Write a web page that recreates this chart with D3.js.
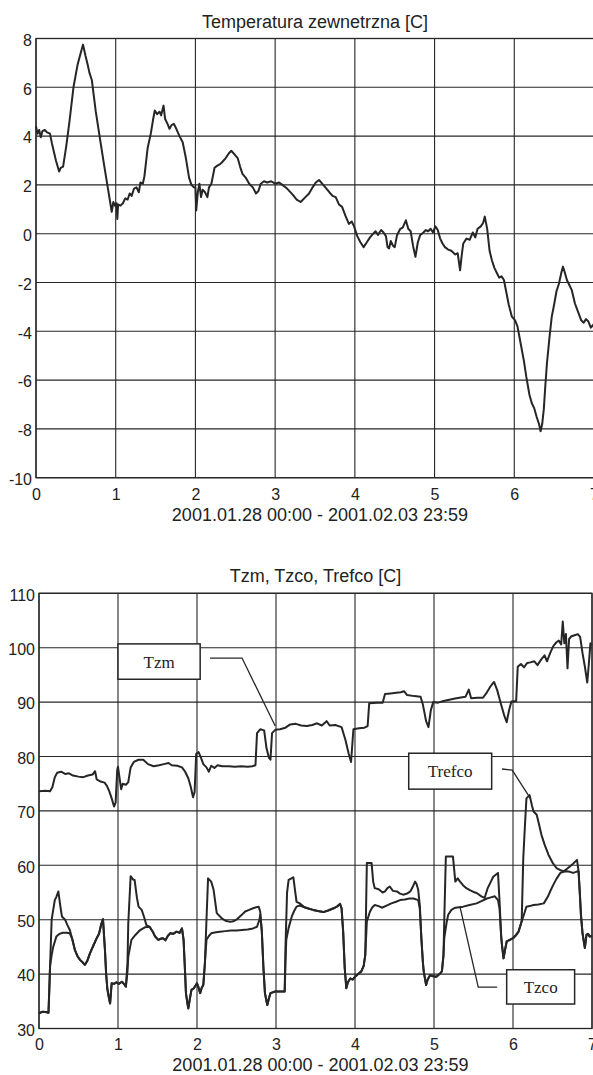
<!DOCTYPE html>
<html>
<head>
<meta charset="utf-8">
<script src="https://cdn.jsdelivr.net/npm/d3@7"></script>
<style>
  body { margin: 0; background: #fff; }
  svg { display: block; }
  .tick text { font-family: "Liberation Sans", Arial, sans-serif; font-size: 16px; fill: #222; }
  .ttl { font-family: "Liberation Sans", Arial, sans-serif; font-size: 18px; fill: #222; }
  .note { font-family: "Liberation Serif", "Times New Roman", serif; font-size: 17px; fill: #222; }
</style>
</head>
<body>
<svg></svg>
<script>
/* dane: dni od 2001.01.28 00:00 */
const dayTicks = [0, 1, 2, 3, 4, 5, 6, 7];
const tempTicks = [-10, -8, -6, -4, -2, 0, 2, 4, 6, 8];
const waterTicks = [30, 40, 50, 60, 70, 80, 90, 100, 110];
const xLabel = '2001.01.28 00:00 - 2001.02.03 23:59';

// temperatura zewnetrzna [t, C]
const tOut = [
  [0,4.4],[0.02,4.1],[0.04,4.25],[0.06,3.95],[0.08,4.2],[0.11,4.25],[0.14,4.15],[0.175,4.1],[0.2,3.7],[0.25,3.0],
  [0.29,2.55],[0.31,2.7],[0.34,2.75],[0.38,3.6],[0.42,4.6],[0.47,6.0],[0.52,6.9],[0.56,7.4],[0.59,7.75],[0.62,7.3],
  [0.65,6.9],[0.67,6.6],[0.70,6.3],[0.75,5.0],[0.8,3.95],[0.85,2.9],[0.9,1.9],[0.93,1.3],[0.95,0.9],[0.97,1.3],
  [0.99,1.15],[1.01,1.25],[1.02,0.6],[1.03,1.2],[1.06,1.15],[1.09,1.25],[1.12,1.45],[1.15,1.4],[1.175,1.65],[1.2,1.55],
  [1.23,1.85],[1.26,1.9],[1.29,1.7],[1.31,2.1],[1.34,2.05],[1.36,2.35],[1.40,3.5],[1.44,4.1],[1.47,4.7],[1.49,5.05],
  [1.52,4.9],[1.55,5.0],[1.57,4.85],[1.60,5.25],[1.62,4.7],[1.65,4.5],[1.675,4.3],[1.70,4.45],[1.73,4.5],[1.76,4.3],
  [1.80,4.0],[1.84,3.75],[1.88,3.1],[1.92,2.3],[1.95,2.0],[1.98,1.9],[2.00,1.9],[2.01,0.95],[2.03,1.7],[2.05,2.05],
  [2.07,1.5],[2.09,1.8],[2.12,1.7],[2.15,1.5],[2.17,1.9],[2.2,2.05],[2.24,2.7],[2.28,2.8],[2.31,2.85],[2.34,2.95],
  [2.38,3.1],[2.42,3.3],[2.45,3.4],[2.49,3.25],[2.53,3.1],[2.56,2.75],[2.59,2.45],[2.63,2.3],[2.675,2.05],[2.72,1.9],
  [2.76,1.65],[2.79,1.75],[2.82,2.05],[2.86,2.15],[2.9,2.1],[2.95,2.15],[3.0,2.05],[3.05,2.1],[3.09,2.0],[3.15,1.85],
  [3.22,1.6],[3.27,1.4],[3.32,1.3],[3.38,1.5],[3.425,1.65],[3.47,1.9],[3.51,2.1],[3.55,2.2],[3.59,2.05],[3.63,1.9],
  [3.68,1.7],[3.72,1.55],[3.76,1.5],[3.8,1.2],[3.84,1.1],[3.88,0.75],[3.925,0.4],[3.96,0.5],[3.99,0.3],[4.03,-0.1],
  [4.07,-0.35],[4.11,-0.55],[4.15,-0.35],[4.19,-0.15],[4.23,0],[4.26,0.1],[4.29,-0.05],[4.33,0.15],[4.36,0.05],[4.39,-0.1],
  [4.41,-0.55],[4.43,-0.6],[4.45,-0.3],[4.48,-0.5],[4.5,-0.55],[4.53,-0.05],[4.57,0.2],[4.6,0.25],[4.64,0.55],[4.67,0.2],
  [4.7,0.1],[4.73,-0.5],[4.76,-0.95],[4.79,-0.35],[4.82,-0.05],[4.86,0.05],[4.89,0.15],[4.92,0.1],[4.95,0.2],[4.98,0.05],
  [5.01,0.3],[5.04,0.15],[5.07,-0.2],[5.1,-0.4],[5.13,-0.55],[5.17,-0.65],[5.21,-0.7],[5.26,-0.85],[5.29,-0.8],[5.32,-1.5],
  [5.34,-0.9],[5.36,-0.4],[5.4,-0.2],[5.44,-0.25],[5.48,0.05],[5.51,-0.15],[5.54,0.2],[5.58,0.3],[5.61,0.45],[5.63,0.7],
  [5.66,0.2],[5.69,-0.7],[5.72,-1.1],[5.75,-1.4],[5.78,-1.6],[5.81,-1.8],[5.84,-1.75],[5.87,-1.9],[5.9,-2.4],[5.93,-2.9],
  [5.97,-3.4],[6.01,-3.55],[6.04,-3.8],[6.08,-4.5],[6.12,-5.2],[6.15,-5.85],[6.19,-6.6],[6.22,-6.95],[6.25,-7.15],[6.28,-7.5],
  [6.31,-7.8],[6.33,-8.1],[6.35,-7.8],[6.37,-7.2],[6.39,-6.2],[6.41,-5.3],[6.44,-4.3],[6.47,-3.4],[6.5,-2.9],[6.53,-2.35],
  [6.56,-2.05],[6.59,-1.6],[6.61,-1.35],[6.63,-1.55],[6.66,-1.9],[6.69,-2.1],[6.72,-2.3],[6.76,-2.85],[6.8,-3.2],[6.84,-3.55],
  [6.87,-3.65],[6.9,-3.5],[6.93,-3.6],[6.96,-3.85],[7.0,-3.7]
];

// Tzm [t, C]
const tzm = [
  [0,73.6],[0.08,73.7],[0.14,73.6],[0.17,74.4],[0.2,76.2],[0.23,77.0],[0.28,77.2],[0.33,76.8],[0.38,76.9],[0.43,76.5],
  [0.5,76.3],[0.56,76.2],[0.62,76.5],[0.68,76.7],[0.71,77.3],[0.73,75.8],[0.78,75.4],[0.83,75.2],[0.86,74.6],[0.89,73.6],
  [0.92,72.3],[0.95,70.8],[0.97,71.5],[0.99,77.5],[1.0,78.1],[1.02,76.0],[1.04,74.0],[1.06,75.0],[1.1,74.8],[1.13,75.3],
  [1.16,78.0],[1.2,79.0],[1.26,79.4],[1.32,79.4],[1.38,78.6],[1.45,78.2],[1.52,78.4],[1.58,78.6],[1.64,78.8],[1.68,78.4],
  [1.75,78.3],[1.81,78.0],[1.85,77.2],[1.89,76.0],[1.92,74.5],[1.95,72.5],[1.97,73.5],[1.99,80.5],[2.02,80.8],[2.05,79.8],
  [2.08,78.6],[2.12,78.0],[2.15,77.2],[2.18,78.3],[2.22,77.9],[2.26,78.4],[2.32,78.2],[2.4,78.2],[2.48,78.1],[2.56,78.2],
  [2.64,78.1],[2.7,78.2],[2.74,78.4],[2.76,84.3],[2.8,85.0],[2.85,84.8],[2.88,81.5],[2.91,79.8],[2.93,79.4],[2.95,84.3],
  [2.99,84.9],[3.05,85.0],[3.12,85.3],[3.18,85.9],[3.25,86.0],[3.32,85.7],[3.39,85.6],[3.46,85.8],[3.52,86.1],[3.58,85.7],
  [3.64,86.5],[3.68,85.7],[3.75,85.8],[3.83,85.4],[3.88,83.0],[3.92,80.5],[3.95,79.0],[3.98,85.0],[4.05,85.2],[4.12,85.3],
  [4.16,85.6],[4.18,89.8],[4.28,89.9],[4.35,89.9],[4.38,91.5],[4.45,91.6],[4.52,91.7],[4.58,91.8],[4.62,92.0],[4.66,91.3],
  [4.75,91.1],[4.83,91.0],[4.86,89.5],[4.9,86.5],[4.93,85.4],[4.96,88.5],[4.99,90.0],[5.05,89.9],[5.12,90.2],[5.18,90.4],
  [5.25,90.6],[5.32,90.8],[5.4,91.0],[5.44,92.3],[5.47,90.7],[5.55,90.8],[5.62,90.8],[5.67,91.8],[5.72,93.0],[5.76,93.7],
  [5.8,92.2],[5.85,89.5],[5.89,87.5],[5.92,86.3],[5.95,88.5],[5.98,90.1],[6.04,90.2],[6.06,96.5],[6.1,97.0],[6.14,96.4],
  [6.18,97.2],[6.22,97.3],[6.27,97.5],[6.31,96.8],[6.36,97.9],[6.4,98.6],[6.43,97.5],[6.47,99.0],[6.51,100.3],[6.55,101.0],
  [6.58,101.3],[6.61,100.6],[6.63,104.8],[6.65,100.8],[6.67,102.5],[6.69,96.2],[6.71,101.6],[6.74,102.1],[6.78,102.3],[6.82,102.5],
  [6.85,102.0],[6.88,99.0],[6.91,96.5],[6.94,93.6],[6.96,97.0],[6.98,100.8],[7.0,100.5]
];

// Tzco [t, C]
const tzco = [
  [0,32.8],[0.05,33.1],[0.1,33.0],[0.12,32.9],[0.13,37.0],[0.14,41.4],[0.16,43.5],[0.18,45.0],[0.22,46.9],[0.26,47.4],
  [0.3,47.6],[0.35,47.6],[0.39,47.5],[0.42,46.5],[0.455,44.4],[0.49,43.2],[0.52,42.6],[0.55,42.2],[0.58,41.7],[0.61,42.4],
  [0.645,43.8],[0.69,45.3],[0.73,46.6],[0.76,47.4],[0.79,49.3],[0.81,50.1],[0.835,44.4],[0.85,40.0],[0.865,37.3],[0.88,36.0],
  [0.9,34.6],[0.91,36.5],[0.92,38.3],[0.95,38.2],[0.98,38.5],[1.01,38.2],[1.05,38.6],[1.08,38.1],[1.1,37.7],[1.12,40.5],
  [1.13,43.2],[1.17,46.3],[1.22,47.2],[1.28,48.1],[1.34,48.6],[1.4,48.7],[1.44,47.8],[1.47,46.9],[1.51,46.3],[1.54,46.5],
  [1.57,46.6],[1.6,46.2],[1.63,47.0],[1.66,47.5],[1.7,47.4],[1.74,47.8],[1.78,47.6],[1.81,48.4],[1.83,46.3],[1.85,40.0],
  [1.86,36.5],[1.88,34.5],[1.89,33.7],[1.91,35.5],[1.93,37.1],[1.96,37.4],[2.0,38.3],[2.02,37.5],[2.04,36.5],[2.06,37.5],
  [2.08,38.0],[2.1,42.0],[2.12,46.3],[2.15,47.0],[2.18,47.5],[2.24,47.7],[2.29,47.8],[2.36,47.9],[2.43,48.0],[2.5,48.0],
  [2.57,48.1],[2.64,48.2],[2.71,48.4],[2.76,48.7],[2.79,50.0],[2.8,50.9],[2.82,48.0],[2.84,41.4],[2.86,36.5],[2.88,35.0],
  [2.89,34.3],[2.91,35.5],[2.93,36.5],[2.99,36.8],[3.05,36.8],[3.11,36.8],[3.12,42.0],[3.13,46.3],[3.16,48.5],[3.2,50.6],
  [3.23,51.6],[3.26,52.4],[3.3,52.6],[3.36,52.3],[3.42,52.0],[3.47,51.8],[3.53,51.6],[3.6,51.4],[3.66,51.7],[3.73,52.1],
  [3.78,52.5],[3.81,52.9],[3.83,52.1],[3.85,47.8],[3.87,41.1],[3.89,37.4],[3.91,38.5],[3.94,39.2],[3.97,39.0],[4.0,39.5],
  [4.04,40.0],[4.08,40.5],[4.11,41.5],[4.13,43.5],[4.15,49.7],[4.19,51.5],[4.22,52.3],[4.25,52.7],[4.3,52.5],[4.34,52.2],
  [4.4,52.6],[4.46,53.0],[4.52,53.3],[4.57,53.6],[4.63,53.7],[4.69,53.9],[4.74,53.9],[4.8,53.6],[4.82,52.1],[4.84,46.6],
  [4.86,42.0],[4.87,40.5],[4.9,38.0],[4.92,39.0],[4.95,39.8],[4.99,39.6],[5.03,39.5],[5.07,40.0],[5.1,40.5],[5.12,43.5],
  [5.13,46.6],[5.16,49.5],[5.18,50.9],[5.22,51.8],[5.27,52.2],[5.32,52.3],[5.37,52.4],[5.45,52.7],[5.54,53.0],[5.6,53.4],
  [5.67,53.9],[5.72,54.1],[5.77,54.3],[5.81,53.6],[5.83,52.0],[5.85,47.0],[5.86,45.4],[5.88,42.9],[5.9,44.5],[5.92,46.0],
  [5.96,46.3],[6.0,46.6],[6.04,47.2],[6.07,47.8],[6.11,49.7],[6.14,51.0],[6.17,52.4],[6.21,52.5],[6.26,52.7],[6.32,52.8],
  [6.39,53.0],[6.44,54.2],[6.48,55.5],[6.51,56.4],[6.55,57.5],[6.6,58.6],[6.64,58.8],[6.68,58.9],[6.72,58.8],[6.76,58.6],
  [6.8,58.8],[6.83,58.9],[6.85,54.0],[6.86,50.9],[6.88,47.5],[6.91,44.8],[6.93,47.2],[6.95,47.4],[6.97,46.9],[7.0,47.0]
];

// Trefco [t, C]
const trefco = [
  [0,32.8],[0.05,33.1],[0.1,33.0],[0.12,32.9],[0.13,37.0],[0.14,41.4],[0.16,50.0],[0.2,53.6],[0.22,54.2],[0.245,55.2],
  [0.27,52.5],[0.29,50.6],[0.33,50.0],[0.36,49.0],[0.39,48.1],[0.42,46.5],[0.455,44.4],[0.49,43.2],[0.52,42.6],[0.55,42.2],
  [0.58,41.7],[0.61,42.4],[0.645,43.8],[0.69,45.3],[0.73,46.6],[0.76,47.4],[0.79,49.3],[0.81,50.1],[0.835,44.4],[0.85,40.0],
  [0.865,37.3],[0.88,36.0],[0.9,34.6],[0.91,36.5],[0.92,38.3],[0.95,38.2],[0.98,38.5],[1.01,38.2],[1.05,38.6],[1.08,38.1],
  [1.1,37.7],[1.12,42.0],[1.13,49.3],[1.16,58.0],[1.19,57.4],[1.21,57.3],[1.24,54.0],[1.26,52.4],[1.3,51.8],[1.33,50.5],
  [1.36,49.0],[1.4,48.7],[1.44,47.8],[1.47,46.9],[1.51,46.3],[1.54,46.5],[1.57,46.6],[1.6,46.2],[1.63,47.0],[1.66,47.5],
  [1.7,47.4],[1.74,47.8],[1.78,47.6],[1.81,48.4],[1.83,46.3],[1.85,40.0],[1.86,36.5],[1.88,34.5],[1.89,33.7],[1.91,35.5],
  [1.93,37.1],[1.96,37.4],[2.0,38.3],[2.02,37.5],[2.04,36.5],[2.06,37.5],[2.08,38.0],[2.1,42.0],[2.12,50.0],[2.14,57.6],
  [2.18,57.0],[2.21,55.5],[2.25,51.2],[2.31,50.3],[2.36,49.8],[2.42,49.6],[2.46,49.7],[2.5,50.0],[2.56,50.8],[2.61,51.5],
  [2.66,51.8],[2.71,52.1],[2.75,52.3],[2.78,52.4],[2.8,51.5],[2.82,48.0],[2.84,41.4],[2.86,36.5],[2.88,35.0],[2.89,34.3],
  [2.91,35.5],[2.93,36.5],[2.99,36.8],[3.05,36.8],[3.11,36.8],[3.12,45.0],[3.14,55.0],[3.16,57.3],[3.22,57.8],[3.24,55.5],
  [3.26,53.3],[3.3,53.0],[3.36,52.3],[3.42,52.0],[3.47,51.8],[3.53,51.6],[3.6,51.4],[3.66,51.7],[3.73,52.1],[3.78,52.5],
  [3.81,52.9],[3.83,52.1],[3.85,47.8],[3.87,41.1],[3.89,37.4],[3.91,38.5],[3.94,39.2],[3.97,39.0],[4.0,39.5],[4.04,40.0],
  [4.08,40.5],[4.11,41.5],[4.13,43.5],[4.14,52.0],[4.15,60.4],[4.21,60.4],[4.23,57.0],[4.25,55.8],[4.3,55.6],[4.35,55.0],
  [4.38,55.2],[4.41,55.8],[4.44,56.1],[4.48,55.3],[4.53,55.2],[4.57,54.8],[4.61,54.6],[4.66,54.8],[4.7,55.2],[4.73,56.0],
  [4.76,57.0],[4.78,56.5],[4.8,55.5],[4.82,52.7],[4.84,46.6],[4.86,42.0],[4.87,40.5],[4.9,38.0],[4.92,39.0],[4.95,39.8],
  [4.99,39.6],[5.03,39.5],[5.07,40.0],[5.1,40.5],[5.12,43.5],[5.13,50.0],[5.15,61.6],[5.24,61.6],[5.27,57.0],[5.3,57.6],
  [5.33,57.0],[5.37,56.3],[5.41,55.8],[5.46,55.4],[5.5,55.1],[5.54,54.9],[5.6,54.3],[5.64,54.0],[5.68,55.8],[5.72,57.0],
  [5.75,57.9],[5.81,58.6],[5.83,53.3],[5.85,47.0],[5.86,45.4],[5.88,42.9],[5.9,44.5],[5.92,46.0],[5.96,46.3],[6.0,46.6],
  [6.04,47.2],[6.07,47.8],[6.11,49.7],[6.13,61.3],[6.15,67.0],[6.17,72.3],[6.21,72.9],[6.24,71.0],[6.26,69.9],[6.3,69.3],
  [6.33,67.5],[6.36,65.6],[6.4,63.8],[6.45,61.9],[6.5,60.5],[6.55,59.5],[6.6,59.1],[6.64,58.9],[6.68,59.3],[6.72,59.8],
  [6.76,60.3],[6.81,61.0],[6.83,58.9],[6.86,50.9],[6.88,47.5],[6.91,44.8],[6.93,47.2],[6.95,47.4],[6.97,46.9],[7.0,47.0]
];

/* stale */
const width = 593, height = 1075;
const ink = '#262626';
const intFmt = d => String(d);   // zwykly lacznik zamiast znaku minus

const svg = d3.select('svg').attr('width', width).attr('height', height);

function panel(cfg) {
  const x = d3.scaleLinear().domain([0, 7]).range([cfg.left, cfg.right]);
  const y = d3.scaleLinear().domain(cfg.yDomain).range([cfg.bottom, cfg.top]);
  const g = svg.append('g');

  // siatka
  g.append('g').selectAll('line').data(cfg.yTicks).join('line')
    .attr('x1', cfg.left).attr('x2', cfg.right)
    .attr('y1', d => y(d)).attr('y2', d => y(d))
    .attr('stroke', ink).attr('stroke-width', 1.1);
  g.append('g').selectAll('line').data(dayTicks).join('line')
    .attr('x1', d => x(d)).attr('x2', d => x(d))
    .attr('y1', cfg.top).attr('y2', cfg.bottom)
    .attr('stroke', ink).attr('stroke-width', 1.1);

  // osie
  const ax = g.append('g').attr('transform', `translate(0,${cfg.bottom})`)
    .call(d3.axisBottom(x).tickValues(dayTicks).tickFormat(intFmt).tickSize(0).tickPadding(cfg.xPad));
  const ay = g.append('g').attr('transform', `translate(${cfg.left},0)`)
    .call(d3.axisLeft(y).tickValues(cfg.yTicks).tickFormat(intFmt).tickSize(0).tickPadding(cfg.yPad));
  ax.select('.domain').remove();
  ay.select('.domain').remove();
  ax.selectAll('text').attr('font-family', null).attr('font-size', null);
  ay.selectAll('text').attr('font-family', null).attr('font-size', null).attr('dy', '0.42em');

  // tytul i opis osi
  g.append('text').attr('class', 'ttl').attr('text-anchor', 'middle')
    .attr('x', (cfg.left + cfg.right) / 2).attr('y', cfg.titleY).text(cfg.title);
  g.append('text').attr('class', 'ttl').attr('text-anchor', 'middle')
    .attr('x', (cfg.left + cfg.right) / 2 + 5).attr('y', cfg.labelY).text(xLabel);

  // serie
  const line = d3.line().x(d => x(d[0])).y(d => y(d[1]));
  cfg.series.forEach(s => {
    g.append('path').datum(s).attr('d', line)
      .attr('fill', 'none').attr('stroke', ink).attr('stroke-width', 2)
      .attr('stroke-linejoin', 'round');
  });

  // adnotacje
  (cfg.notes || []).forEach(n => {
    g.append('rect')
      .attr('x', x(n.box[0])).attr('y', y(n.box[1]))
      .attr('width', x(n.box[2]) - x(n.box[0])).attr('height', y(n.box[3]) - y(n.box[1]))
      .attr('fill', '#fff').attr('stroke', ink).attr('stroke-width', 1.5);
    g.append('text').attr('class', 'note').attr('text-anchor', 'middle')
      .attr('x', (x(n.box[0]) + x(n.box[2])) / 2)
      .attr('y', (y(n.box[1]) + y(n.box[3])) / 2 + 6)
      .text(n.label);
    g.append('path').datum(n.leader).attr('d', line)
      .attr('fill', 'none').attr('stroke', ink).attr('stroke-width', 1.3);
  });

  // ramka
  g.append('rect').attr('x', cfg.left).attr('y', cfg.top)
    .attr('width', cfg.right - cfg.left).attr('height', cfg.bottom - cfg.top)
    .attr('fill', 'none').attr('stroke', ink).attr('stroke-width', 1.3);
}

panel({
  left: 36, right: 594, top: 38.5, bottom: 477.7,
  yDomain: [-10, 8], yTicks: tempTicks,
  xPad: 11, yPad: 4,
  title: 'Temperatura zewnetrzna [C]', titleY: 28, labelY: 521,
  series: [tOut]
});

panel({
  left: 39, right: 592, top: 593.3, bottom: 1028.5,
  yDomain: [30, 110], yTicks: waterTicks,
  xPad: 10, yPad: 4,
  title: 'Tzm, Tzco, Trefco [C]', titleY: 582, labelY: 1071,
  series: [tzm, trefco, tzco],
  notes: [
    { label: 'Tzm', box: [1.0, 100.7, 2.04, 94.2], leader: [[2.165, 98.1], [2.57, 98.1], [2.99, 85.6]] },
    { label: 'Trefco', box: [4.68, 80.6, 5.73, 74.0], leader: [[5.86, 77.7], [5.99, 77.5], [6.22, 72.3]] },
    { label: 'Tzco', box: [5.92, 40.8, 6.78, 34.5], leader: [[5.80, 37.6], [5.56, 37.6], [5.33, 52.3]] }
  ]
});
</script>
</body>
</html>
